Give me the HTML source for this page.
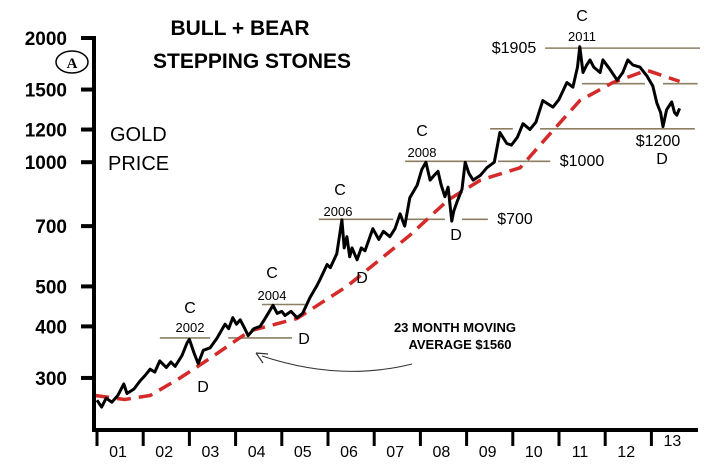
<!DOCTYPE html>
<html><head><meta charset="utf-8"><style>
body{margin:0;background:#fff}
svg{display:block}
text{font-family:"Liberation Sans",Arial,sans-serif}
</style></head><body>
<svg id="chart" width="720" height="465" viewBox="0 0 720 465" xmlns="http://www.w3.org/2000/svg">
<rect width="720" height="465" fill="#fff"/>
<g id="lines"></g>
<g id="series"></g>
<g id="axes"></g>
<g id="ann">
<text x="240" y="35" font-size="21" font-weight="bold" text-anchor="middle">BULL + BEAR</text>
<text x="252" y="68" font-size="21" font-weight="bold" text-anchor="middle">STEPPING STONES</text>
<text x="110" y="141" font-size="20">GOLD</text>
<text x="108" y="170" font-size="20">PRICE</text>
<ellipse cx="72" cy="62" rx="16" ry="11" fill="none" stroke="#000" stroke-width="1.5"/>
<text x="72" y="68" font-size="15" font-weight="bold" text-anchor="middle" style="font-family:'Liberation Serif',serif">A</text>
<text x="455" y="332" font-size="13" font-weight="bold" text-anchor="middle">23 MONTH MOVING</text>
<text x="460" y="349" font-size="13" font-weight="bold" text-anchor="middle">AVERAGE $1560</text>
<path d="M412,364 Q340,382 262,356" fill="none" stroke="#333" stroke-width="1"/>
<path d="M256,353 L268,354 M256,353 L263,363" stroke="#333" stroke-width="1.2" fill="none"/>
</g>
</svg>
<script>
const yTicks=[2000,1500,1200,1000,700,500,400,300];
const yearLabels=["01","02","03","04","05","06","07","08","09","10","11","12","13"];
const priceYears=[2001.00,2001.10,2001.20,2001.32,2001.45,2001.58,2001.65,2001.80,2001.93,2002.05,2002.15,2002.25,2002.36,2002.50,2002.60,2002.69,2002.84,2002.95,2003.00,2003.10,2003.19,2003.30,2003.45,2003.60,2003.77,2003.85,2003.94,2004.02,2004.10,2004.20,2004.27,2004.40,2004.53,2004.65,2004.81,2004.90,2005.00,2005.07,2005.20,2005.33,2005.45,2005.61,2005.75,2005.83,2005.98,2006.05,2006.19,2006.30,2006.35,2006.41,2006.47,2006.52,2006.63,2006.72,2006.80,2006.97,2007.10,2007.20,2007.34,2007.45,2007.56,2007.66,2007.77,2007.93,2008.03,2008.12,2008.21,2008.30,2008.38,2008.45,2008.53,2008.60,2008.68,2008.72,2008.79,2008.90,2008.97,2009.05,2009.14,2009.30,2009.44,2009.60,2009.72,2009.87,2009.97,2010.10,2010.22,2010.37,2010.50,2010.65,2010.78,2010.87,2011.00,2011.17,2011.30,2011.40,2011.45,2011.52,2011.60,2011.67,2011.75,2011.89,2011.95,2012.10,2012.26,2012.38,2012.49,2012.60,2012.75,2012.90,2013.03,2013.12,2013.20,2013.25,2013.33,2013.44,2013.50,2013.55,2013.61];
const priceValues=[265,255,268,262,272,290,275,282,295,305,315,310,330,318,328,320,340,365,372,345,325,350,355,375,405,395,420,405,415,395,380,395,400,420,450,430,435,425,435,420,430,470,500,520,565,555,600,725,620,660,590,620,580,620,610,690,650,680,660,690,750,700,820,880,960,1000,905,930,950,880,825,870,720,760,800,860,1000,940,905,930,970,1000,1180,1110,1100,1150,1240,1200,1250,1410,1380,1360,1420,1560,1520,1700,1905,1650,1720,1770,1700,1650,1770,1680,1580,1650,1770,1720,1700,1620,1530,1390,1320,1220,1340,1400,1320,1300,1350];
const maYears=[2000.96,2001.60,2002.15,2002.80,2003.45,2004.31,2005.33,2006.41,2007.77,2008.60,2009.30,2010.16,2010.74,2011.45,2012.17,2012.90,2013.61];
const maValues=[272,266,272,300,335,390,418,500,665,810,905,970,1150,1410,1560,1670,1570];
const NS="http://www.w3.org/2000/svg";
function xs(yr){return 97+(yr-2001)*46.2;}
function ys(p){return 38+412.6*Math.log10(2000/p);}
function mk(tag,attrs,parent){const e=document.createElementNS(NS,tag);for(const k in attrs)e.setAttribute(k,attrs[k]);parent.appendChild(e);return e;}
const axes=document.getElementById('axes'),series=document.getElementById('series'),lines=document.getElementById('lines');
let e=mk('line',{x1:94,y1:36,x2:94,y2:432,stroke:'#000','stroke-width':4},axes);


e=mk('line',{x1:92,y1:430,x2:698,y2:430,stroke:'#000','stroke-width':4},axes);


yTicks.forEach(v=>{
 const y=ys(v);
 let t=mk('line',{x1:81,y1:y,x2:94,y2:y,stroke:'#000','stroke-width':4},axes);
 
 
 let l=mk('text',{x:67,y:y+7,'font-size':19,'font-weight':'bold','text-anchor':'end'},axes);
 l.textContent=v;
 
 
});
yearLabels.forEach((lab,i)=>{
 const x=xs(2001+i);
 let t=mk('line',{x1:x,y1:430,x2:x,y2:446,stroke:'#000','stroke-width':3},axes);
 
 
 let l=mk('text',{x:x+21,y:i==12?446:457,'font-size':16,'text-anchor':'middle'},axes);
 l.textContent=lab;
 
 
});
// reference lines [year1,year2,price]
const refSegs=[[2002.36,2003.45,375],[2003.84,2005.22,375],[2004.57,2005.50,452],[2005.80,2007.41,727],[2007.67,2008.53,727],[2008.90,2009.46,727],[2007.67,2009.44,1005],[2009.68,2010.81,1005],[2009.51,2010.0,1205],[2010.59,2013.94,1205],[2010.70,2014.05,1890],[2011.50,2012.86,1550],[2013.25,2014.0,1550]];
refSegs.forEach(s=>{
 let l=mk('line',{x1:xs(s[0]),x2:xs(s[1]),y1:ys(s[2]),y2:ys(s[2]),stroke:'#8c7e62','stroke-width':1.6},lines);
 
 
});
let ma=mk('path',{d:maYears.map((y,i)=>(i?'L':'M')+xs(y).toFixed(1)+','+ys(maValues[i]).toFixed(1)).join(''),fill:'none',stroke:'#d42a2a','stroke-width':3.5,'stroke-dasharray':'14 8'},series);


let pl=mk('path',{d:priceYears.map((y,i)=>(i?'L':'M')+xs(y).toFixed(1)+','+ys(priceValues[i]).toFixed(1)).join(''),fill:'none',stroke:'#000','stroke-width':3,'stroke-linejoin':'round'},series);


const labels=[["C",190,313,16],["2002",190,332,13],["C",272,278,16],["2004",272,300,13],["C",340,195,16],["2006",338,216,13],["C",422,136,16],["2008",422,157,13],["C",582,21,16],["2011",582,41,13],["D",203,392,16],["D",304,344,16],["D",362,283,16],["D",456,240,16],["D",662,164,16],["$700",515,224,16],["$1000",582,166,16],["$1200",658,146,16],["$1905",514,53,16]];
const ann=document.getElementById('ann');
labels.forEach(a=>{
 let t=mk('text',{x:a[1],y:a[2],'font-size':a[3],'text-anchor':'middle'},ann);
 t.textContent=a[0];
 
 
});
</script>
</body></html>
